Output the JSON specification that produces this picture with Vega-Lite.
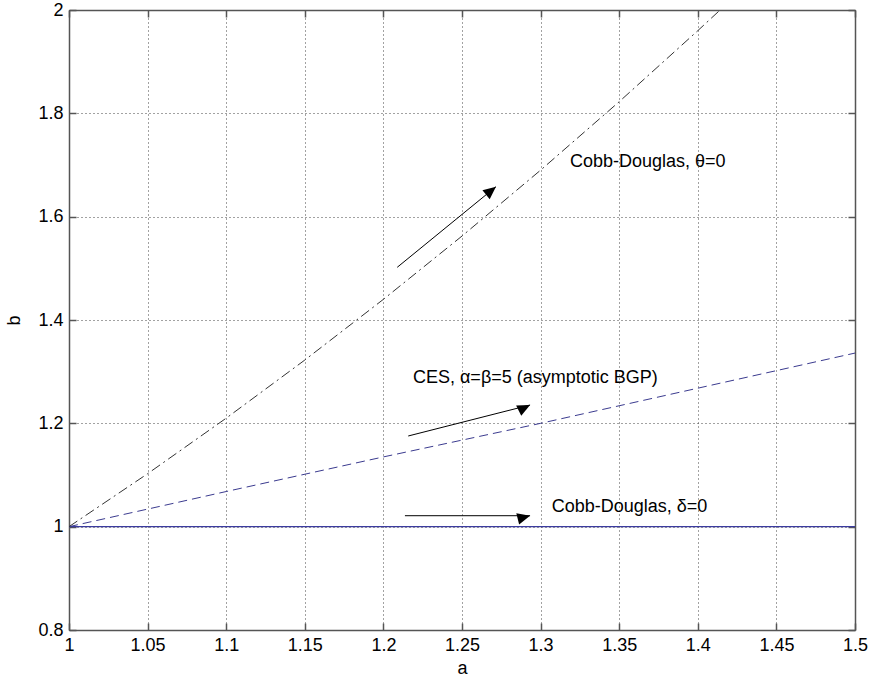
{
  "$schema": "https://vega.github.io/schema/vega-lite/v6.json",
  "autosize": {"type": "none"},
  "padding": {"left": 69, "top": 10, "right": 14, "bottom": 49},
  "width": 786,
  "height": 620,
  "background": "white",
  "config": {
    "view": {"stroke": null},
    "font": "Liberation Sans",
    "axis": {
      "labelFont": "Liberation Sans",
      "titleFont": "Liberation Sans",
      "labelFontSize": 18,
      "titleFontSize": 18,
      "titleFontWeight": "normal",
      "labelColor": "black",
      "titleColor": "black",
      "domainColor": "#555555",
      "domainWidth": 1.5,
      "tickColor": "#555555",
      "tickWidth": 1.5,
      "labelFlush": false,
      "labelOverlap": false
    }
  },
  "datasets": {
    "solid": [{"a": 1, "b": 1}, {"a": 1.5, "b": 1}],
    "dashed": [
      {"a": 1.0, "b": 1.0},
      {"a": 1.1, "b": 1.068},
      {"a": 1.2, "b": 1.135},
      {"a": 1.3, "b": 1.2},
      {"a": 1.4, "b": 1.268},
      {"a": 1.5, "b": 1.336}
    ],
    "dashdot": [
      {"a": 1.0, "b": 1.0},
      {"a": 1.05, "b": 1.1025},
      {"a": 1.1, "b": 1.21},
      {"a": 1.15, "b": 1.3225},
      {"a": 1.2, "b": 1.44},
      {"a": 1.25, "b": 1.5625},
      {"a": 1.3, "b": 1.69},
      {"a": 1.35, "b": 1.8225},
      {"a": 1.4, "b": 1.96},
      {"a": 1.4142, "b": 2.0}
    ],
    "arrows": [
      {"id": "1", "a": 1.2088, "b": 1.502, "a2": 1.2716, "b2": 1.658},
      {"id": "2", "a": 1.2158, "b": 1.1755, "a2": 1.2933, "b2": 1.2355},
      {"id": "3", "a": 1.2137, "b": 1.0212, "a2": 1.2933, "b2": 1.0212}
    ],
    "labels": [
      {"label": "Cobb-Douglas, θ=0", "a": 1.3187, "b": 1.7063},
      {"label": "CES, α=β=5 (asymptotic BGP)", "a": 1.2188, "b": 1.2877},
      {"label": "Cobb-Douglas, δ=0", "a": 1.3071, "b": 1.0375}
    ]
  },
  "resolve": {"axis": {"x": "independent", "y": "independent"}},
  "layer": [
    {
      "data": {"name": "dashed"},
      "mark": {"type": "line", "color": "#3b3b8f", "strokeWidth": 1, "strokeDash": [9, 5], "clip": true},
      "encoding": {
        "x": {"field": "a", "type": "quantitative",
          "scale": {"domain": [1, 1.5], "nice": false, "zero": false},
          "axis": {"orient": "bottom", "title": "a", "values": [1, 1.05, 1.1, 1.15, 1.2, 1.25, 1.3, 1.35, 1.4, 1.45, 1.5],
            "format": "~g", "grid": true, "gridColor": "#444444", "gridDash": [1, 3], "gridWidth": 1, "gridOpacity": 1,
            "tickSize": -7, "labelPadding": 13, "titlePadding": 5}},
        "y": {"field": "b", "type": "quantitative",
          "scale": {"domain": [0.8, 2], "nice": false, "zero": false},
          "axis": {"orient": "left", "title": "b", "values": [0.8, 1, 1.2, 1.4, 1.6, 1.8, 2],
            "format": "~g", "grid": true, "gridColor": "#444444", "gridDash": [1, 3], "gridWidth": 1, "gridOpacity": 1,
            "tickSize": -7, "labelPadding": 13, "titlePadding": 14}}
      }
    },
    {
      "data": {"name": "solid"},
      "mark": {"type": "line", "color": "#3b3b9f", "strokeWidth": 1.2},
      "encoding": {
        "x": {"field": "a", "type": "quantitative",
          "axis": {"orient": "top", "title": null, "labels": false, "values": [1, 1.05, 1.1, 1.15, 1.2, 1.25, 1.3, 1.35, 1.4, 1.45, 1.5],
            "grid": false, "tickSize": -7}},
        "y": {"field": "b", "type": "quantitative",
          "axis": {"orient": "right", "title": null, "labels": false, "values": [0.8, 1, 1.2, 1.4, 1.6, 1.8, 2],
            "grid": false, "tickSize": -7}}
      }
    },
    {
      "data": {"name": "dashdot"},
      "mark": {"type": "line", "color": "#333333", "strokeWidth": 1, "strokeDash": [10, 4, 2, 4], "clip": true},
      "encoding": {
        "x": {"field": "a", "type": "quantitative", "axis": null},
        "y": {"field": "b", "type": "quantitative", "axis": null}
      }
    },
    {
      "data": {"name": "arrows"},
      "mark": {"type": "rule", "color": "black", "strokeWidth": 1},
      "encoding": {
        "x": {"field": "a", "type": "quantitative", "axis": null},
        "y": {"field": "b", "type": "quantitative", "axis": null},
        "x2": {"field": "a2"},
        "y2": {"field": "b2"}
      }
    },
    {
      "data": {"name": "arrows"},
      "mark": {"type": "point", "filled": true, "color": "black", "opacity": 1, "size": 650,
        "shape": "M0,0L-0.45,1L0.45,1Z"},
      "encoding": {
        "x": {"field": "a2", "type": "quantitative", "axis": null},
        "y": {"field": "b2", "type": "quantitative", "axis": null},
        "angle": {"field": "id", "type": "nominal", "scale": {"domain": ["1", "2", "3"], "range": [50.8, 75.7, 90]}, "legend": null}
      }
    },
    {
      "data": {"name": "labels"},
      "mark": {"type": "text", "align": "left", "baseline": "middle", "fontSize": 18, "font": "Liberation Sans", "color": "black"},
      "encoding": {
        "x": {"field": "a", "type": "quantitative", "axis": null},
        "y": {"field": "b", "type": "quantitative", "axis": null},
        "text": {"field": "label"}
      }
    }
  ]
}
